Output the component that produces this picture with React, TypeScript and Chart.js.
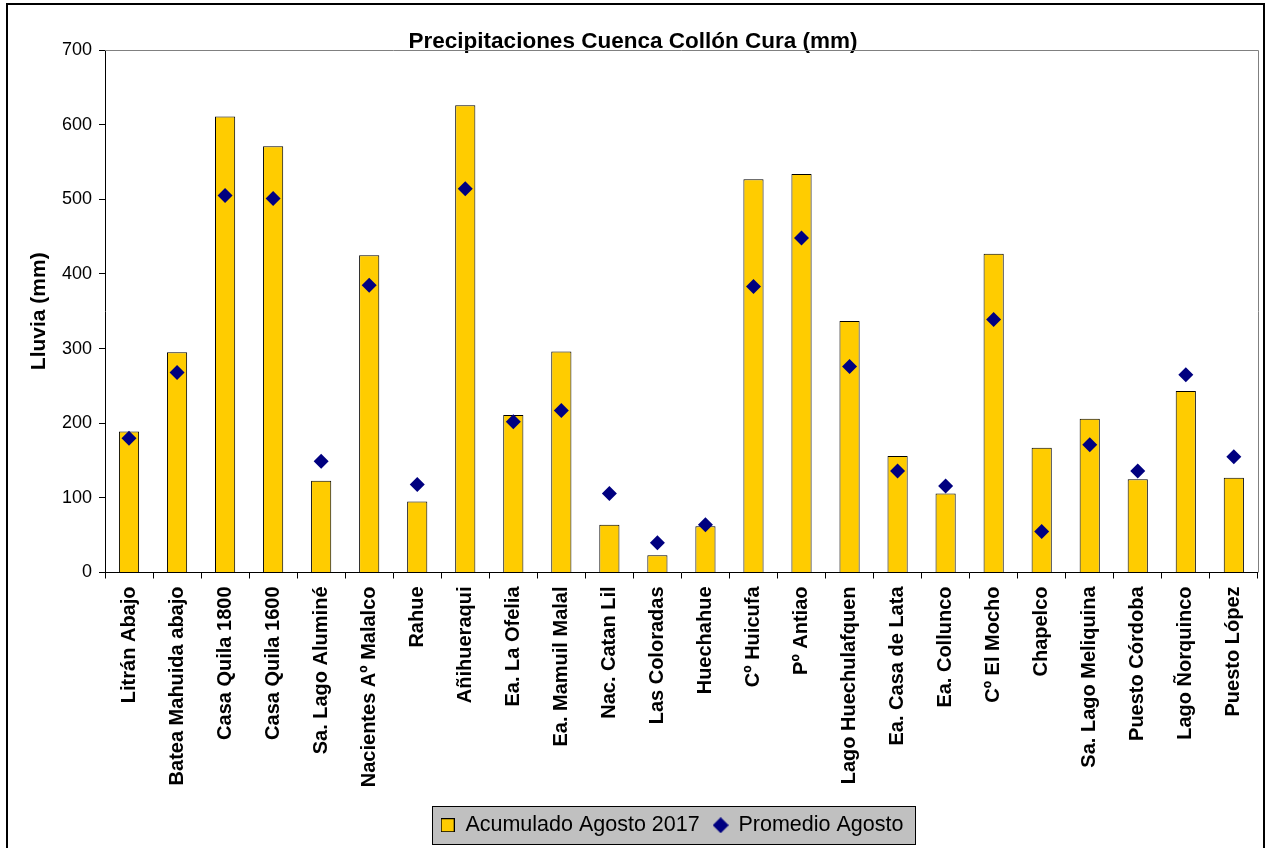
import { useEffect, useRef } from 'react';
import { Chart, registerables } from 'chart.js';

Chart.register(...registerables);

const FONT = '"Liberation Sans", Arial, Helvetica, sans-serif';

const TITLE = 'Precipitaciones Cuenca Collón Cura (mm)';
const Y_TITLE = 'Lluvia (mm)';
const SERIES_BAR = 'Acumulado Agosto 2017';
const SERIES_AVG = 'Promedio Agosto';

const categories = [
  'Litrán Abajo',
  'Batea Mahuida abajo',
  'Casa Quila 1800',
  'Casa Quila 1600',
  'Sa. Lago Aluminé',
  'Nacientes Aº Malalco',
  'Rahue',
  'Añihueraqui',
  'Ea. La Ofelia',
  'Ea. Mamuil Malal',
  'Nac. Catan Lil',
  'Las Coloradas',
  'Huechahue',
  'Cº Huicufa',
  'Pº Antiao',
  'Lago Huechulafquen',
  'Ea. Casa de Lata',
  'Ea. Collunco',
  'Cº El Mocho',
  'Chapelco',
  'Sa. Lago Meliquina',
  'Puesto Córdoba',
  'Lago Ñorquinco',
  'Puesto López',
];

const acumulado = [189, 295, 611, 571, 123, 425, 95, 626, 211, 296, 64, 23, 62, 527, 534, 337, 156, 106, 427, 167, 206, 125, 243, 127];
const promedio = [180, 268, 505, 501, 149, 385, 118, 514, 202, 217, 106, 40, 64, 383, 448, 276, 136, 116, 339, 55, 171, 136, 265, 155];

const Y_MIN = 0;
const Y_MAX = 700;
const Y_STEP = 100;

const BAR_COLOR = '#FFCC00';
const NAVY = '#000080';
const LEGEND_SHIFT = 39;

function makeIcon(w: number, h: number, draw: (g: CanvasRenderingContext2D) => void) {
  const c = document.createElement('canvas');
  c.width = w;
  c.height = h;
  const g = c.getContext('2d')!;
  draw(g);
  return c;
}

export default function App() {
  const ref = useRef<HTMLCanvasElement>(null);

  useEffect(() => {
    const canvas = ref.current!;

    const squareIcon = makeIcon(14, 14, (g) => {
      g.fillStyle = BAR_COLOR;
      g.fillRect(0, 0, 14, 14);
      g.strokeStyle = '#000';
      g.lineWidth = 1;
      g.strokeRect(0.5, 0.5, 13, 13);
    });
    const diamondIcon = makeIcon(16, 16, (g) => {
      g.fillStyle = NAVY;
      g.beginPath();
      g.moveTo(8, 0);
      g.lineTo(16, 8);
      g.lineTo(8, 16);
      g.lineTo(0, 8);
      g.closePath();
      g.fill();
    });

    const framePlugin = {
      id: 'framePlugin',
      afterLayout(chart: any) {
        const lg = chart.legend;
        if (lg) {
          lg.left += LEGEND_SHIFT;
          lg.right += LEGEND_SHIFT;
        }
      },
      beforeDraw(chart: any) {
        const ctx = chart.ctx as CanvasRenderingContext2D;
        ctx.save();
        ctx.fillStyle = '#ffffff';
        ctx.fillRect(0, 0, chart.width, chart.height);
        ctx.strokeStyle = '#000';
        ctx.lineWidth = 2;
        ctx.strokeRect(7, 4, chart.width - 9, chart.height + 20);
        const hb = chart.legend && chart.legend.legendHitBoxes;
        if (hb && hb.length) {
          const first = hb[0];
          const last = hb[hb.length - 1];
          const x0 = Math.round(first.left - 9) + 0.5;
          const x1 = Math.round(last.left + last.width + 12) + 0.5;
          const y0 = Math.round(first.top - 9) + 0.5;
          const y1 = Math.round(first.top + first.height + 8) + 0.5;
          ctx.fillStyle = '#c0c0c0';
          ctx.fillRect(x0, y0, x1 - x0, y1 - y0);
          ctx.lineWidth = 1;
          ctx.strokeStyle = '#000';
          ctx.strokeRect(x0, y0, x1 - x0, y1 - y0);
        }
        ctx.restore();
      },
      afterDraw(chart: any) {
        const { ctx, chartArea } = chart;
        ctx.save();
        ctx.strokeStyle = '#808080';
        ctx.lineWidth = 1;
        ctx.beginPath();
        ctx.moveTo(chartArea.left, Math.round(chartArea.top) + 0.5);
        ctx.lineTo(Math.round(chartArea.right) + 0.5, Math.round(chartArea.top) + 0.5);
        ctx.lineTo(Math.round(chartArea.right) + 0.5, chartArea.bottom);
        ctx.stroke();
        ctx.restore();
      },
    };

    const chart = new Chart(canvas, {
      type: 'bar',
      data: {
        labels: categories,
        datasets: [
          {
            type: 'bar',
            label: SERIES_BAR,
            data: acumulado,
            backgroundColor: BAR_COLOR,
            borderColor: '#000000',
            borderWidth: 1,
            barPercentage: 0.42,
            categoryPercentage: 1,
            order: 2,
          },
          {
            type: 'line',
            label: SERIES_AVG,
            data: promedio,
            showLine: false,
            pointStyle: 'rectRot',
            pointRadius: 7.5,
            pointHoverRadius: 7.5,
            pointBackgroundColor: NAVY,
            pointBorderColor: NAVY,
            pointBorderWidth: 0,
            order: 1,
          } as any,
        ],
      },
      options: {
        responsive: false,
        animation: false,
        devicePixelRatio: 1,
        layout: { padding: { left: 8, right: 8, top: 0, bottom: 2 } },
        plugins: {
          tooltip: { enabled: false },
          title: {
            display: true,
            text: TITLE,
            color: '#000',
            font: { family: FONT, size: 22.5, weight: 'bold', lineHeight: 16 / 22.5 },
            padding: { top: 34, bottom: 0 },
          },
          legend: {
            display: true,
            position: 'bottom',
            labels: {
              usePointStyle: true,
              boxWidth: 14,
              boxHeight: 14,
              padding: 14,
              color: '#000',
              font: { family: FONT, size: 21.5 },
              generateLabels: () => [
                {
                  text: SERIES_BAR,
                  pointStyle: squareIcon as any,
                  fillStyle: BAR_COLOR,
                  strokeStyle: '#000',
                  lineWidth: 1,
                  hidden: false,
                  datasetIndex: 0,
                  fontColor: '#000',
                },
                {
                  text: SERIES_AVG,
                  pointStyle: diamondIcon as any,
                  fillStyle: NAVY,
                  strokeStyle: NAVY,
                  lineWidth: 0,
                  hidden: false,
                  datasetIndex: 1,
                  fontColor: '#000',
                },
              ],
            },
          },
        },
        scales: {
          x: {
            offset: true,
            border: { display: true, color: '#000', width: 1 },
            grid: {
              display: true,
              offset: true,
              drawOnChartArea: false,
              drawTicks: true,
              tickLength: 6,
              color: '#000',
            },
            ticks: {
              autoSkip: false,
              minRotation: 90,
              maxRotation: 90,
              padding: 8,
              color: '#000',
              font: { family: FONT, size: 20, weight: 'bold' },
            },
            afterFit: (scale: any) => {
              scale.height = 228;
            },
          },
          y: {
            min: Y_MIN,
            max: Y_MAX,
            border: { display: true, color: '#000', width: 1 },
            grid: {
              display: true,
              drawOnChartArea: false,
              drawTicks: true,
              tickLength: 6,
              color: '#000',
            },
            ticks: {
              stepSize: Y_STEP,
              padding: 7,
              color: '#000',
              font: { family: FONT, size: 18 },
            },
            title: {
              display: true,
              text: Y_TITLE,
              color: '#000',
              font: { family: FONT, size: 21, weight: 'bold' },
              padding: { top: 19, bottom: 0 },
            },
            afterFit: (scale: any) => {
              scale.width = 97;
            },
          },
        },
      },
      plugins: [framePlugin],
    });

    return () => chart.destroy();
  }, []);

  return (
    <div style={{ position: 'absolute', left: 0, top: 0, width: 1266, height: 848, overflow: 'hidden', background: '#fff' }}>
      <canvas ref={ref} width={1266} height={848} style={{ width: 1266, height: 848, display: 'block' }} />
    </div>
  );
}
